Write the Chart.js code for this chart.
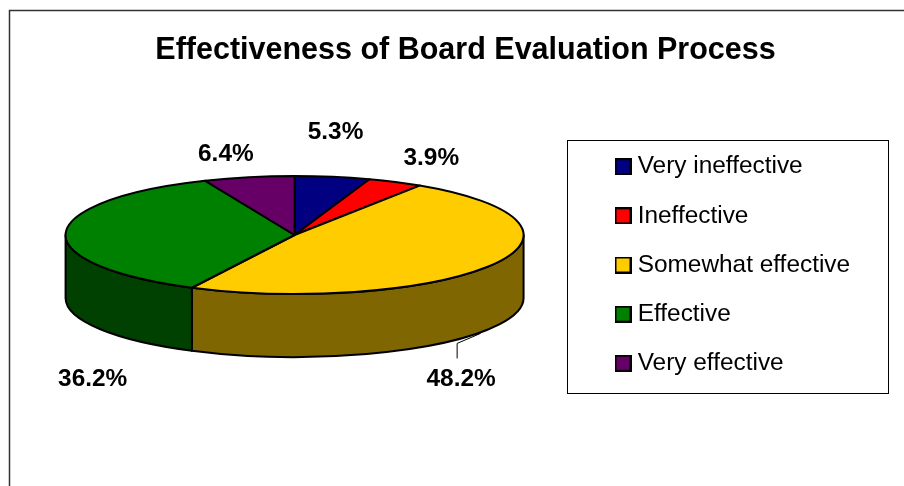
<!DOCTYPE html>
<html>
<head>
<meta charset="utf-8">
<style>html,body{margin:0;padding:0;background:#fff}canvas{display:block}</style>
<script src="https://cdn.jsdelivr.net/npm/chart.js@4/dist/chart.umd.js"></script>
</head>
<body>
<canvas id="c" width="904" height="486"></canvas>
<script>
const titleText = 'Effectiveness of Board Evaluation Process';
const categories = ['Very ineffective', 'Ineffective', 'Somewhat effective', 'Effective', 'Very effective'];
const shares = [5.3, 3.9, 48.2, 36.2, 6.4];
const sliceColors = ['#000080', '#FF0000', '#FFCC00', '#008000', '#660066'];
const wallColors = ['#000040', '#800000', '#806600', '#004000', '#330033'];
// label offset from the middle of each slice's rim
const labelOffsets = [[3, -45], [36, -24], [-32, 115], [27, 146], [-23, -23]];

const FONT = '"Liberation Sans", Arial, sans-serif';
const RADIUS = 229, FLATTEN = 59 / 229, DEPTH = 63;

function swatch(color) {
  const s = document.createElement('canvas');
  s.width = 17; s.height = 17;
  const g = s.getContext('2d');
  g.fillStyle = color; g.fillRect(0, 0, 17, 17);
  g.strokeStyle = '#000'; g.lineWidth = 2; g.strokeRect(1, 1, 15, 15);
  return s;
}

const pie3d = {
  id: 'pie3d',
  afterLayout(chart) {
    chart.titleBlock.left += 38.75;
    chart.titleBlock.right += 38.75;
    chart.legend.left = 595.75;
    chart.legend.top = 129.75;
    chart.legend.bottom = 486;
  },
  beforeDatasetsDraw(chart) {
    const ctx = chart.ctx;
    const arcs = chart.getDatasetMeta(0).data;
    ctx.save();
    ctx.lineWidth = 2;
    ctx.strokeStyle = '#000';
    ctx.lineJoin = 'round';
    arcs.forEach((a, i) => {
      const p = a.getProps(['x', 'y', 'startAngle', 'endAngle', 'outerRadius'], true);
      const from = Math.max(p.startAngle, 0), to = Math.min(p.endAngle, Math.PI);
      if (to <= from) return;
      ctx.beginPath();
      ctx.save();
      ctx.translate(p.x, p.y); ctx.scale(1, FLATTEN);
      ctx.arc(0, 0, p.outerRadius, from, to);
      ctx.restore();
      ctx.save();
      ctx.translate(p.x, p.y + DEPTH); ctx.scale(1, FLATTEN);
      ctx.arc(0, 0, p.outerRadius, to, from, true);
      ctx.restore();
      ctx.closePath();
      ctx.fillStyle = wallColors[i];
      ctx.fill(); ctx.stroke();
    });
    arcs.forEach((a, i) => {
      const p = a.getProps(['x', 'y', 'startAngle', 'endAngle', 'outerRadius'], true);
      ctx.beginPath();
      ctx.save();
      ctx.translate(p.x, p.y); ctx.scale(1, FLATTEN);
      ctx.moveTo(0, 0);
      ctx.arc(0, 0, p.outerRadius, p.startAngle, p.endAngle);
      ctx.closePath();
      ctx.restore();
      ctx.fillStyle = sliceColors[i];
      ctx.fill(); ctx.stroke();
    });
    ctx.restore();
    return false;
  },
  afterDraw(chart) {
    const ctx = chart.ctx;
    const arcs = chart.getDatasetMeta(0).data;
    ctx.save();
    // outer chart frame, running off the right and bottom of the picture
    ctx.strokeStyle = '#333';
    ctx.lineWidth = 1.5;
    ctx.beginPath();
    ctx.moveTo(9.5, 486); ctx.lineTo(9.5, 10.5); ctx.lineTo(904, 10.5);
    ctx.stroke();
    // legend frame
    ctx.strokeStyle = '#000';
    ctx.lineWidth = 1;
    ctx.strokeRect(567.5, 140.5, 321, 253);
    // data labels
    ctx.fillStyle = '#000';
    ctx.font = 'bold 24.4px ' + FONT;
    ctx.textAlign = 'center';
    ctx.textBaseline = 'middle';
    arcs.forEach((a, i) => {
      const p = a.getProps(['x', 'y', 'startAngle', 'endAngle', 'outerRadius'], true);
      const mid = (p.startAngle + p.endAngle) / 2;
      const rx = p.x + p.outerRadius * Math.cos(mid);
      const ry = p.y + p.outerRadius * FLATTEN * Math.sin(mid);
      ctx.fillText(shares[i].toFixed(1) + '%', rx + labelOffsets[i][0], ry + labelOffsets[i][1]);
      if (i === 2) {
        ctx.lineWidth = 1;
        ctx.beginPath();
        ctx.moveTo(rx - 36, ry + 94);
        ctx.lineTo(rx - 36, ry + 79);
        ctx.lineTo(rx - 12.5, ry + 69);
        ctx.stroke();
      }
    });
    ctx.restore();
  }
};

new Chart(document.getElementById('c'), {
  type: 'pie',
  plugins: [pie3d],
  data: {
    labels: categories,
    datasets: [{ data: shares, backgroundColor: sliceColors, borderColor: '#000', borderWidth: 1, radius: RADIUS }]
  },
  options: {
    responsive: false,
    animation: false,
    layout: { padding: { left: 0, right: 50.5, top: 0, bottom: 86 } },
    plugins: {
      tooltip: { enabled: false },
      title: {
        display: true,
        text: titleText,
        color: '#000',
        font: { family: FONT, size: 30.5, weight: 'bold', lineHeight: 1.2 },
        padding: { top: 32.7, bottom: 0.7 }
      },
      legend: {
        display: true,
        position: 'right',
        align: 'start',
        labels: {
          color: '#000',
          font: { family: FONT, size: 24.4 },
          padding: 24.75,
          usePointStyle: true,
          pointStyleWidth: 5,
          generateLabels(chart) {
            const items = Chart.overrides.pie.plugins.legend.labels.generateLabels(chart);
            items.forEach(it => { it.pointStyle = swatch(it.fillStyle); });
            return items;
          }
        }
      }
    }
  }
});
</script>
</body>
</html>
